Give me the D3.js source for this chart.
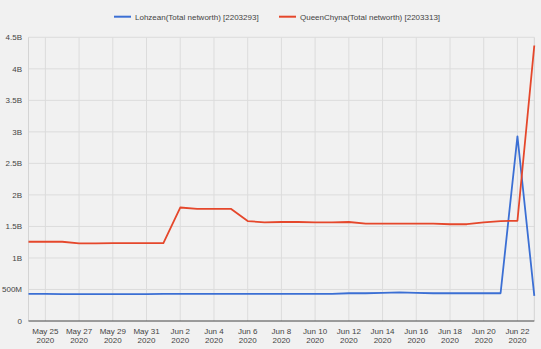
<!DOCTYPE html>
<html><head><meta charset="utf-8">
<script src="https://cdn.jsdelivr.net/npm/d3@7"></script>
<style>
html,body{margin:0;padding:0;background:#f1f1f1;}
svg{display:block;font-family:"Liberation Sans",Arial,sans-serif;}
</style></head><body>
<svg id="c" width="541" height="349"></svg>
<script>
const dates = ["2020-05-24","2020-05-25","2020-05-26","2020-05-27","2020-05-28","2020-05-29","2020-05-30","2020-05-31",
"2020-06-01","2020-06-02","2020-06-03","2020-06-04","2020-06-05","2020-06-06","2020-06-07","2020-06-08","2020-06-09",
"2020-06-10","2020-06-11","2020-06-12","2020-06-13","2020-06-14","2020-06-15","2020-06-16","2020-06-17","2020-06-18",
"2020-06-19","2020-06-20","2020-06-21","2020-06-22","2020-06-23"];
const lohzean = [0.43,0.43,0.425,0.425,0.425,0.425,0.425,0.425,0.43,0.43,0.43,0.43,0.43,0.43,0.43,0.43,0.43,0.43,0.43,
0.44,0.44,0.445,0.455,0.445,0.44,0.44,0.44,0.44,0.44,2.93,0.40];
const queen = [1.257,1.257,1.257,1.23,1.23,1.235,1.235,1.235,1.235,1.80,1.78,1.78,1.78,1.585,1.565,1.57,1.57,1.565,1.565,
1.57,1.545,1.545,1.545,1.545,1.545,1.535,1.535,1.565,1.585,1.59,4.37];
const seriesNames = ["Lohzean(Total networth) [2203293]","QueenChyna(Total networth) [2203313]"];
const colors = ["#3b6fd4","#e5472b"];
const yTicks = [0,0.5,1,1.5,2,2.5,3,3.5,4,4.5];
const yTickLabels = ["0","500M","1B","1.5B","2B","2.5B","3B","3.5B","4B","4.5B"];

const svg = d3.select("#c");
const parse = d3.timeParse("%Y-%m-%d");
const D = dates.map(parse);
const L = 28.5, R = 534.3, T = 37.3, B = 321;
const x = d3.scaleTime().domain([D[0], D[D.length-1]]).range([L, R]);
const y = d3.scaleLinear().domain([0,4.5]).range([B, T]);

const g = svg.append("g");
g.selectAll("line.h").data(yTicks.slice(1)).join("line")
  .attr("x1",L).attr("x2",R).attr("y1",d=>y(d)).attr("y2",d=>y(d))
  .attr("stroke","#dcdcdc").attr("stroke-width",1);
const xTicks = D.filter((d,i)=>i%2===1);
g.selectAll("line.v").data(xTicks).join("line")
  .attr("x1",d=>x(d)).attr("x2",d=>x(d)).attr("y1",T).attr("y2",B)
  .attr("stroke","#dcdcdc").attr("stroke-width",1);
g.append("line").attr("x1",L).attr("x2",L).attr("y1",T).attr("y2",B).attr("stroke","#d4d4d4");
g.append("line").attr("x1",R).attr("x2",R).attr("y1",T).attr("y2",B).attr("stroke","#d4d4d4");

svg.append("g").selectAll("text").data(yTicks).join("text")
  .attr("x",22).attr("y",d=>y(d)+3).attr("text-anchor","end")
  .attr("font-size",8).attr("fill","#444").text((d,i)=>yTickLabels[i]);

const fmt = d3.timeFormat("%b %-d");
const xl = svg.append("g").selectAll("text").data(xTicks).join("text")
  .attr("text-anchor","middle").attr("font-size",8).attr("fill","#444");
xl.append("tspan").attr("x",d=>x(d)).attr("y",333.5).text(d=>fmt(d));
xl.append("tspan").attr("x",d=>x(d)).attr("y",343).text(d=>d3.timeFormat("%Y")(d));

const line = d3.line().x((d,i)=>x(D[i])).y(d=>y(d));
[lohzean, queen].forEach((s,k)=>{
  svg.append("path").datum(s).attr("d",line).attr("fill","none")
    .attr("stroke",colors[k]).attr("stroke-width",1.8).attr("stroke-linejoin","round");
});

svg.append("line").attr("x1",L).attr("x2",R).attr("y1",B).attr("y2",B).attr("stroke","#444").attr("stroke-width",1);

const leg = [{x1:114,x2:131,tx:135},{x1:279,x2:296,tx:300}];
leg.forEach((p,k)=>{
  svg.append("line").attr("x1",p.x1).attr("x2",p.x2).attr("y1",16.7).attr("y2",16.7)
    .attr("stroke",colors[k]).attr("stroke-width",2);
  svg.append("text").attr("x",p.tx).attr("y",19.6).attr("font-size",8).attr("fill","#444").text(seriesNames[k]);
});
</script></body></html>
